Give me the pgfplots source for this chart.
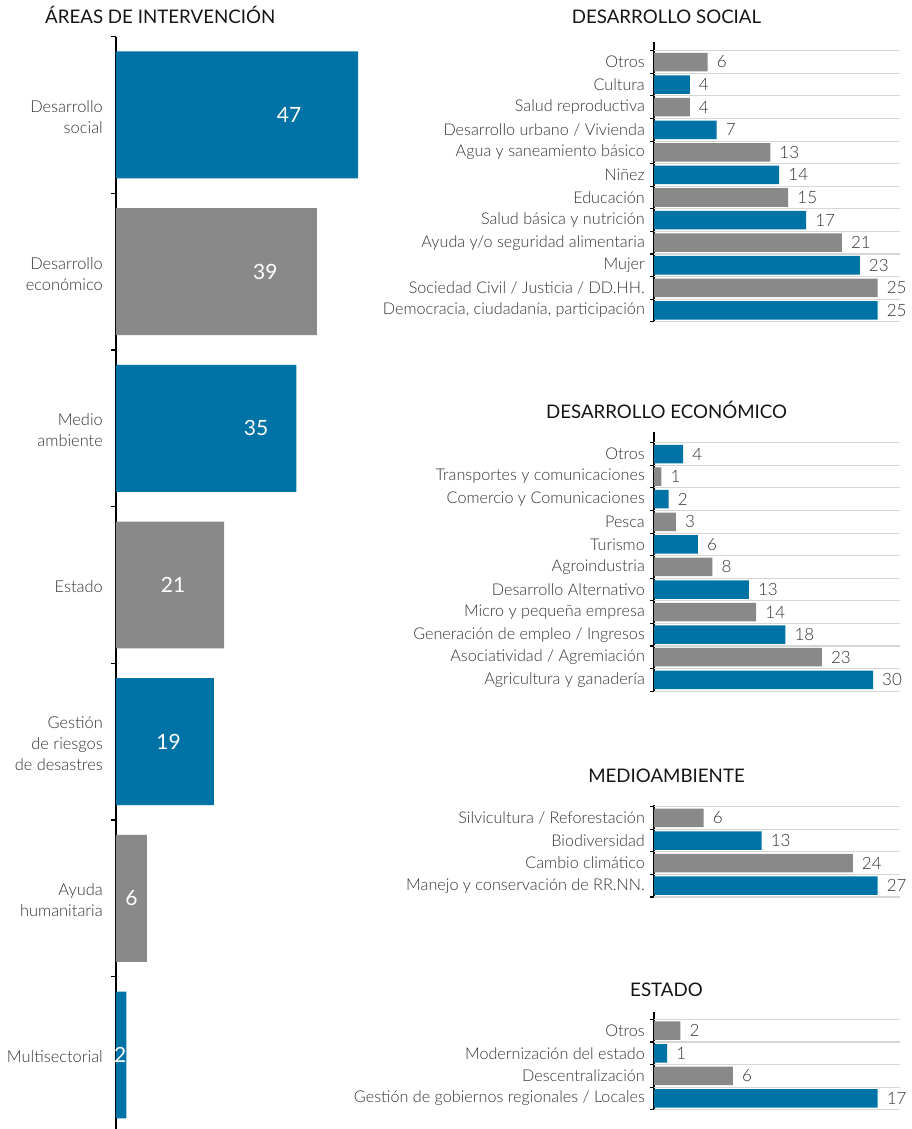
\documentclass[border=0pt]{standalone}
\usepackage{pgfplots}
\pgfplotsset{compat=1.18}
\usepackage{fontspec}
\setmainfont{Lato}
\newfontfamily\lightfont{Lato Light}
\definecolor{cblue}{HTML}{0073A6}
\definecolor{cgray}{HTML}{898989}
\definecolor{txt}{HTML}{333333}
\definecolor{ttl}{HTML}{151515}
\definecolor{gridc}{HTML}{D6D6D6}
\definecolor{basec}{HTML}{4A4A4A}

\pgfplotsset{
  /pgf/number format/assume math mode=true,
  rpanel/.style={
    scale only axis, anchor=north west, width=246pt,
    xmin=0, ymin=-0.5,
    axis x line*=bottom, axis y line*=left,
    xtick=\empty,
    x axis line style={draw=basec, line width=1.2pt, -},
    y axis line style={draw=black, line width=1.1pt, -},
    major tick length=0pt,
    yticklabel style={font=\lightfont\fontsize{16.2}{18}\selectfont, text=txt, inner sep=0pt, xshift=-9pt},
    extra y tick labels={},
    extra y tick style={grid=major, major tick length=4pt, tick align=outside,
      tick style={draw=black, line width=1.1pt}},
    major grid style={draw=gridc, line width=1.1pt},
    clip=false,
  },
  rbar/.style={xbar, bar width=0.82, bar shift=0pt, draw=none, fill=#1,
    nodes near coords, point meta=x,
    nodes near coords style={anchor=west, inner sep=0pt, xshift=9pt,
      font=\lightfont\fontsize{17}{18}\selectfont, text=txt}},
}

\begin{document}
\begin{tikzpicture}
\useasboundingbox (0pt,0pt) rectangle (911pt,-1129pt);

% ---------- titles ----------
\node[anchor=base west, inner sep=0pt, text=ttl, font=\fontsize{18.7}{20}\selectfont] at (45pt,-24pt) {ÁREAS DE INTERVENCIÓN};
\node[anchor=base, inner sep=0pt, text=ttl, font=\fontsize{18.7}{20}\selectfont] at (666.5pt,-24pt) {DESARROLLO SOCIAL};
\node[anchor=base, inner sep=0pt, text=ttl, font=\fontsize{18.7}{20}\selectfont] at (666.5pt,-418pt) {DESARROLLO ECONÓMICO};
\node[anchor=base, inner sep=0pt, text=ttl, font=\fontsize{18.7}{20}\selectfont] at (666.5pt,-782pt) {MEDIOAMBIENTE};
\node[anchor=base, inner sep=0pt, text=ttl, font=\fontsize{18.7}{20}\selectfont] at (666.5pt,-996pt) {ESTADO};

% ---------- left panel ----------
\begin{axis}[
  at={(116pt,-36.6pt)}, anchor=north west, scale only axis,
  width=257.5pt, height=1096.8pt,
  xmin=0, xmax=50, ymin=-0.5, ymax=6.5,
  axis x line=none, axis y line*=left,
  y axis line style={draw=black, line width=1.1pt, -},
  ytick={0,...,6},
  yticklabels={Multisectorial,{Ayuda\\humanitaria},{Gestión\\de riesgos\\de desastres},Estado,{Medio\\ambiente},{Desarrollo\\económico},{Desarrollo\\social}},
  major tick length=0pt,
  yticklabel style={font=\lightfont\fontsize{16.4}{21}\selectfont, text=txt, align=right, inner sep=0pt, xshift=-13pt, yshift=-2pt},
  extra y ticks={-0.5,0.5,1.5,2.5,3.5,4.5,5.5,6.5},
  extra y tick labels={},
  extra y tick style={major tick length=5pt, tick align=outside, tick style={draw=black, line width=1.1pt}},
  clip=false,
]
\addplot[xbar, bar width=0.81, bar shift=0pt, draw=none, fill=cblue] coordinates {(47,6) (35,4) (19,2) (2,0)};
\addplot[xbar, bar width=0.81, bar shift=0pt, draw=none, fill=cgray] coordinates {(39,5) (21,3) (6,1)};
\addplot[draw=none, mark=none, nodes near coords, point meta=explicit symbolic,
  nodes near coords style={anchor=center, inner sep=0pt, text=white, font=\fontsize{21}{22}\selectfont}]
  table[x=x, y=y, meta=label] {
x y label
33.6 6 47
29.0 5 39
27.2 4 35
11.1 3 21
10.2 2 19
3.0 1 6
0.83 0 2
};
\end{axis}

% ---------- Desarrollo social ----------
\begin{axis}[rpanel,
  at={(654pt,-41.7pt)}, height=280pt,
  xmax=27.5, ymax=11.9,
  ytick={0,...,11},
  yticklabels={{Democracia, ciudadanía, participación},{Sociedad Civil / Justicia / DD.HH.},Mujer,{Ayuda y/o seguridad alimentaria},{Salud básica y nutrición},Educación,Niñez,{Agua y saneamiento básico},{Desarrollo urbano / Vivienda},{Salud reproductiva},Cultura,Otros},
  extra y ticks={-0.5,0.5,...,11.5},
]
\addplot[rbar=cblue] coordinates {(25,0) (23,2) (17,4) (14,6) (7,8) (4,10)};
\addplot[rbar=cgray] coordinates {(25,1) (21,3) (15,5) (13,7) (4,9) (6,11)};
\end{axis}

% ---------- Desarrollo economico ----------
\begin{axis}[rpanel,
  at={(654pt,-431.7pt)}, height=259.4pt,
  xmax=33.7, ymax=10.99,
  ytick={0,...,10},
  yticklabels={{Agricultura y ganadería},{Asociatividad / Agremiación},{Generación de empleo / Ingresos},{Micro y pequeña empresa},{Desarrollo Alternativo},Agroindustria,Turismo,Pesca,{Comercio y Comunicaciones},{Transportes y comunicaciones},Otros},
  extra y ticks={-0.5,0.5,...,10.5},
]
\addplot[rbar=cblue] coordinates {(30,0) (18,2) (13,4) (6,6) (2,8) (4,10)};
\addplot[rbar=cgray] coordinates {(23,1) (14,3) (8,5) (3,7) (1,9)};
\end{axis}

% ---------- Medioambiente ----------
\begin{axis}[rpanel,
  at={(654pt,-805pt)}, height=92pt,
  xmax=29.7, ymax=3.575,
  ytick={0,...,3},
  yticklabels={{Manejo y conservación de RR.NN.},{Cambio climático},Biodiversidad,{Silvicultura / Reforestación}},
  extra y ticks={-0.5,0.5,...,3.5},
]
\addplot[rbar=cblue] coordinates {(27,0) (13,2)};
\addplot[rbar=cgray] coordinates {(24,1) (6,3)};
\end{axis}

% ---------- Estado ----------
\begin{axis}[rpanel,
  at={(654pt,-1011.7pt)}, height=98pt,
  xmax=18.7, ymax=3.84,
  ytick={0,...,3},
  yticklabels={{Gestión de gobiernos regionales / Locales},Descentralización,{Modernización del estado},Otros},
  extra y ticks={-0.5,0.5,...,3.5},
]
\addplot[rbar=cblue] coordinates {(17,0) (1,2)};
\addplot[rbar=cgray] coordinates {(6,1) (2,3)};
\end{axis}
\end{tikzpicture}
\end{document}
